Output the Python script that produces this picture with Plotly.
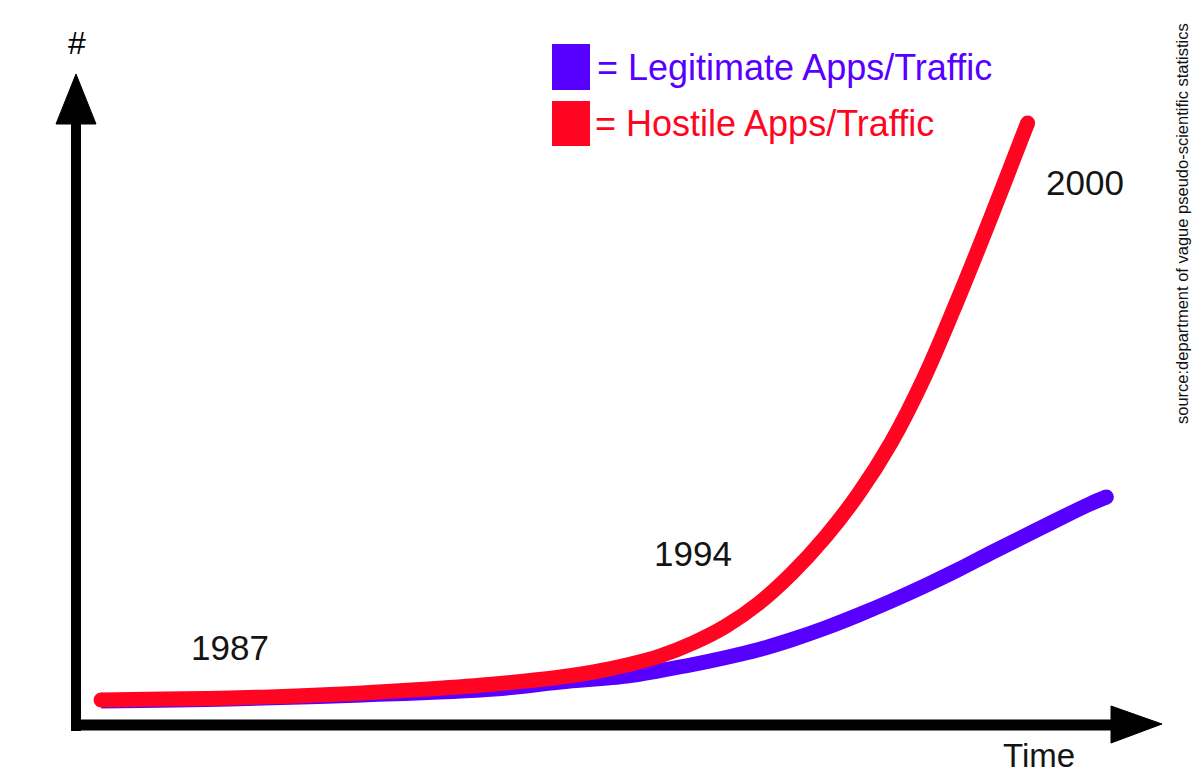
import plotly.graph_objects as go

# ---- data ----
hostile_years = [1985.05, 1986, 1987, 1988, 1989, 1990, 1991, 1992, 1992.5, 1993, 1993.5,
                 1994, 1994.5, 1995, 1995.5, 1996, 1996.5, 1997, 1997.5, 1998, 1998.5, 1999, 1999.06]
hostile_values = [2.5, 2.6, 2.7, 2.9, 3.2, 3.6, 4.1, 4.8, 5.3, 6.0, 6.9,
                  8.2, 9.9, 12.2, 15.2, 18.8, 23.1, 28.3, 34.8, 42.5, 50.7, 59.2, 60.2]
legit_years = [1985.05, 1987, 1989, 1991, 1992, 1993, 1993.5, 1994, 1994.5, 1995, 1995.5,
               1996, 1996.5, 1997, 1997.5, 1998, 1998.5, 1999, 1999.5, 2000, 2000.25]
legit_values = [2.4, 2.6, 3.0, 3.6, 4.3, 4.9, 5.45, 6.05, 6.75, 7.55, 8.55,
                9.7, 11.0, 12.4, 13.9, 15.5, 17.2, 18.85, 20.5, 22.1, 22.8]
year_labels = ["1987", "1994", "2000"]
year_label_x = [1987, 1994, 1999.93]
year_label_y = [7.8, 17.2, 54.3]
series_names = ["= Legitimate Apps/Traffic", "= Hostile Apps/Traffic"]

BLUE = "#5800ff"
RED = "#ff0522"
FONT = "Liberation Sans, Arial, sans-serif"

W, H, OFF = 1186, 762, 8


def px(x):
    return (x - OFF) / W


def py(y):
    return 1 - (y - OFF) / H


fig = go.Figure()
fig.add_trace(go.Scatter(x=legit_years, y=legit_values, mode="lines",
                         line=dict(color=BLUE, width=15, shape="spline", smoothing=1.0),
                         name=series_names[0], showlegend=False))
fig.add_trace(go.Scatter(x=[legit_years[-1]], y=[legit_values[-1]], mode="markers",
                         marker=dict(color=BLUE, size=15), showlegend=False))
fig.add_trace(go.Scatter(x=hostile_years, y=hostile_values, mode="lines",
                         line=dict(color=RED, width=15, shape="spline", smoothing=1.0),
                         name=series_names[1], showlegend=False))
fig.add_trace(go.Scatter(x=[hostile_years[0], hostile_years[-1]], y=[hostile_values[0], hostile_values[-1]],
                         mode="markers", marker=dict(color=RED, size=15), showlegend=False))

shapes = []
# vertical axis line
shapes.append(dict(type="line", xref="paper", yref="paper", x0=px(76), x1=px(76), y0=py(731), y1=py(115),
                   line=dict(color="black", width=10)))
# horizontal axis line
shapes.append(dict(type="line", xref="paper", yref="paper", x0=px(71), x1=px(1120), y0=py(725), y1=py(725),
                   line=dict(color="black", width=11)))
# arrow heads
shapes.append(dict(type="path", xref="paper", yref="paper",
                   path=f"M {px(76)},{py(74)} L {px(96)},{py(124)} L {px(56)},{py(124)} Z",
                   fillcolor="black", line=dict(color="black", width=1)))
shapes.append(dict(type="path", xref="paper", yref="paper",
                   path=f"M {px(1162)},{py(724)} L {px(1111)},{py(706)} L {px(1111)},{py(743)} Z",
                   fillcolor="black", line=dict(color="black", width=1)))
# legend squares
shapes.append(dict(type="rect", xref="paper", yref="paper", x0=px(552), x1=px(590), y0=py(44), y1=py(90),
                   fillcolor=BLUE, line=dict(width=0)))
shapes.append(dict(type="rect", xref="paper", yref="paper", x0=px(552), x1=px(590), y0=py(101), y1=py(146),
                   fillcolor=RED, line=dict(width=0)))

annotations = []
annotations.append(dict(text=series_names[0], xref="paper", yref="paper", x=px(595), y=py(67),
                        xanchor="left", yanchor="middle", showarrow=False,
                        font=dict(family=FONT, size=36, color=BLUE)))
annotations.append(dict(text=series_names[1], xref="paper", yref="paper", x=px(593), y=py(123),
                        xanchor="left", yanchor="middle", showarrow=False,
                        font=dict(family=FONT, size=36, color=RED)))
for t, xv, yv in zip(year_labels, year_label_x, year_label_y):
    annotations.append(dict(text=t, x=xv, y=yv, xref="x", yref="y", showarrow=False,
                            xanchor="center", yanchor="middle",
                            font=dict(family=FONT, size=35, color="#141414")))
annotations.append(dict(text="#", xref="paper", yref="paper", x=px(77), y=py(43), showarrow=False,
                        xanchor="center", yanchor="middle", font=dict(family=FONT, size=32, color="black")))
annotations.append(dict(text="Time", xref="paper", yref="paper", x=px(1039), y=py(755), showarrow=False,
                        xanchor="center", yanchor="middle", font=dict(family=FONT, size=33, color="#141414")))
annotations.append(dict(text="source:department of vague pseudo-scientific statistics",
                        xref="paper", yref="paper", x=px(1182), y=py(224), textangle=-90, showarrow=False,
                        xanchor="center", yanchor="middle",
                        font=dict(family=FONT, size=16.5, color="#111111")))

fig.update_layout(
    width=W, height=H,
    margin=dict(l=0, r=0, t=0, b=0),
    paper_bgcolor="white", plot_bgcolor="white",
    xaxis=dict(range=[1983.643, 2001.575], visible=False, fixedrange=True),
    yaxis=dict(range=[-4.5, 71.7], visible=False, fixedrange=True),
    shapes=shapes, annotations=annotations, showlegend=False,
)

fig.write_html("out.html")
